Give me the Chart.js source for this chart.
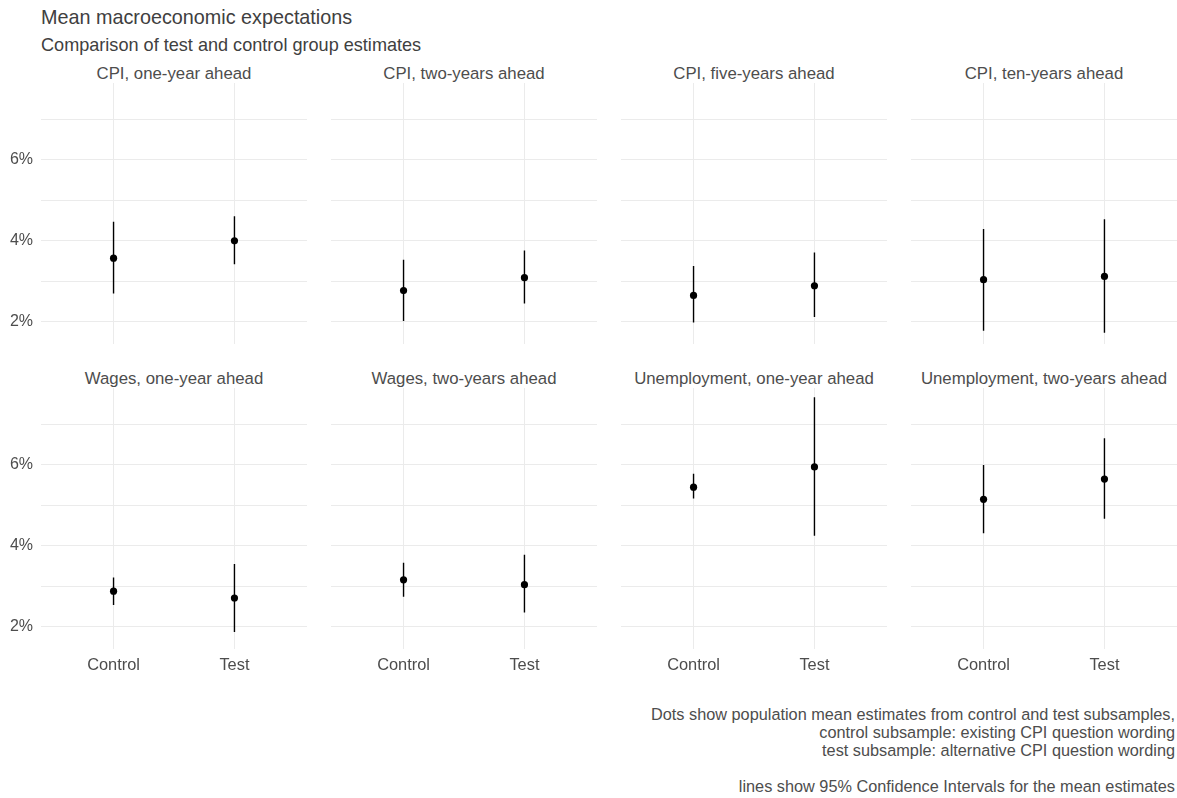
<!DOCTYPE html>
<html>
<head>
<meta charset="utf-8">
<script src="https://cdn.jsdelivr.net/npm/chart.js@4"></script>
<style>
  body { margin: 0; background: #fff; width: 1177px; height: 798px; overflow: hidden; font-family: 'Liberation Sans', Arial, sans-serif; }
  .abs { position: absolute; }
  canvas.panel { position: absolute; }
  .strip { position: absolute; width: 266px; text-align: center; font-size: 16.8px; color: #4d4d4d; line-height: 20px; }
  #title { left: 41px; top: 6px; font-size: 19.8px; color: #404040; }
  #subtitle { left: 41px; top: 35px; font-size: 18.1px; color: #404040; }
  #caption { right: 2px; top: 706px; font-size: 16.3px; color: #4d4d4d; text-align: right; line-height: 17.9px; }
</style>
</head>
<body>
<div id="title" class="abs">Mean macroeconomic expectations</div>
<div id="subtitle" class="abs">Comparison of test and control group estimates</div>
<div id="caption" class="abs">Dots show population mean estimates from control and test subsamples,<br>control subsample: existing CPI question wording<br>test subsample: alternative CPI question wording<br><br>lines show 95% Confidence Intervals for the mean estimates</div>
<script>
// facet order: row 1 then row 2
const panelTitles = [
  'CPI, one-year ahead', 'CPI, two-years ahead', 'CPI, five-years ahead', 'CPI, ten-years ahead',
  'Wages, one-year ahead', 'Wages, two-years ahead', 'Unemployment, one-year ahead', 'Unemployment, two-years ahead',
];
const groups = ['Control', 'Test'];

const controlMean = [3.57, 2.77, 2.65, 3.04, 2.88, 3.16, 5.45, 5.15];
const controlLow  = [2.70, 2.02, 1.98, 1.78, 2.54, 2.74, 5.17, 4.31];
const controlHigh = [4.47, 3.53, 3.38, 4.29, 3.22, 3.58, 5.78, 6.00];

const testMean = [4.00, 3.09, 2.89, 3.12, 2.71, 3.04, 5.95, 5.65];
const testLow  = [3.42, 2.45, 2.12, 1.73, 1.87, 2.35, 4.25, 4.67];
const testHigh = [4.61, 3.76, 3.71, 4.53, 3.55, 3.78, 7.67, 6.66];

const yTicks = [2, 3, 4, 5, 6, 7];

const COL_LEFT = [41, 331, 621, 911];
const ROW_TOP = [83, 388];
const PANEL_W = 266;
const PANEL_H = 261;
const Y_AXIS_W = 41;
const X_AXIS_H = 40;
const GRID = '#ebebeb';
const FONT = "'Liberation Sans', Arial, sans-serif";

// keep the plot area exactly the panel box (no label overhang padding)
const noPad = s => { s.paddingTop = 0; s.paddingBottom = 0; s.paddingLeft = 0; s.paddingRight = 0; };

panelTitles.forEach((name, i) => {
  const row = Math.floor(i / 4), col = i % 4;
  const leftAxis = col === 0, bottomAxis = row === 1;

  const strip = document.createElement('div');
  strip.className = 'strip';
  strip.textContent = name;
  strip.style.left = COL_LEFT[col] + 'px';
  strip.style.top = (ROW_TOP[row] - 19) + 'px';
  document.body.appendChild(strip);

  const canvas = document.createElement('canvas');
  canvas.className = 'panel';
  canvas.width = PANEL_W + (leftAxis ? Y_AXIS_W : 0);
  canvas.height = PANEL_H + (bottomAxis ? X_AXIS_H : 0);
  canvas.style.left = (COL_LEFT[col] - (leftAxis ? Y_AXIS_W : 0)) + 'px';
  canvas.style.top = ROW_TOP[row] + 'px';
  document.body.appendChild(canvas);

  const means = [controlMean[i], testMean[i]];
  const lows = [controlLow[i], testLow[i]];
  const highs = [controlHigh[i], testHigh[i]];

  // interval segments, broken by a null point between groups
  const ciData = [];
  groups.forEach((g, k) => {
    if (k > 0) ciData.push({ x: k + 0.5, y: null });
    ciData.push({ x: k + 1, y: lows[k] }, { x: k + 1, y: highs[k] });
  });

  new Chart(canvas.getContext('2d'), {
    type: 'scatter',
    data: {
      datasets: [
        {
          label: 'CI', data: ciData, showLine: true, spanGaps: false,
          borderColor: '#000', borderWidth: 1.4, pointRadius: 0, order: 2,
        },
        {
          label: 'Mean', data: means.map((m, k) => ({ x: k + 1, y: m })),
          backgroundColor: '#000', borderColor: '#000', pointRadius: 3.6, pointBorderWidth: 0, order: 1,
        },
      ],
    },
    options: {
      responsive: false,
      animation: false,
      events: [],
      layout: { padding: 0, autoPadding: false },
      plugins: { legend: { display: false }, tooltip: { enabled: false } },
      scales: {
        x: {
          type: 'linear', min: 0.4, max: 2.6,
          afterBuildTicks: s => { s.ticks = groups.map((g, k) => ({ value: k + 1 })); },
          afterFit: s => { s.height = bottomAxis ? X_AXIS_H : 0; noPad(s); },
          grid: { color: GRID, lineWidth: 1, drawTicks: false },
          border: { display: false },
          ticks: {
            display: bottomAxis, padding: 7, color: '#4d4d4d', maxRotation: 0,
            font: { family: FONT, size: 16.4 },
            callback: v => groups[v - 1] || '',
          },
        },
        y: {
          type: 'linear', min: 1.45, max: 7.9,
          afterBuildTicks: s => { s.ticks = yTicks.map(v => ({ value: v })); },
          afterFit: s => { s.width = leftAxis ? Y_AXIS_W : 0; noPad(s); },
          grid: { color: GRID, lineWidth: 1, drawTicks: false },
          border: { display: false },
          ticks: {
            display: leftAxis, padding: 8, color: '#4d4d4d',
            font: { family: FONT, size: 16 },
            callback: v => (v % 2 === 0 ? v + '%' : ''),
          },
        },
      },
    },
  });
});
</script>
</body>
</html>
